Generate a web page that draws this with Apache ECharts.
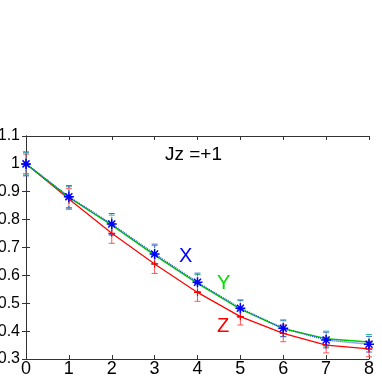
<!DOCTYPE html>
<html>
<head>
<meta charset="utf-8">
<script src="https://cdn.jsdelivr.net/npm/echarts@6/dist/echarts.min.js"></script>
<style>
  html, body { margin: 0; padding: 0; background: #fff; }
  #chart { width: 382px; height: 382px; }
</style>
</head>
<body>
<div id="chart"></div>
<script>
var rValues = [0, 1, 2, 3, 4, 5, 6, 7, 8];
var xValues = [1.0, 0.882, 0.784, 0.677, 0.575, 0.482, 0.410, 0.368, 0.353];
var yValues = [1.0, 0.880, 0.780, 0.673, 0.571, 0.479, 0.409, 0.373, 0.361];
var zValues = [1.0, 0.874, 0.751, 0.641, 0.539, 0.452, 0.392, 0.350, 0.336];
var xErr = [0.043, 0.040, 0.038, 0.035, 0.033, 0.030, 0.030, 0.028, 0.028];
var yErr = [0.040, 0.038, 0.036, 0.034, 0.032, 0.030, 0.028, 0.027, 0.027];
var zErr = [0.035, 0.037, 0.036, 0.034, 0.032, 0.030, 0.030, 0.028, 0.028];

var myChart = echarts.init(document.getElementById('chart'));

function pairs(vals) {
    return rValues.map(function (r, i) { return [r, vals[i]]; });
}
function errData(vals, errs) {
    return rValues.map(function (r, i) { return [r, vals[i] - errs[i], vals[i] + errs[i]]; });
}
function errSeries(vals, errs, color, dash) {
    return {
        type: 'custom',
        silent: true,
        z: 3,
        data: errData(vals, errs),
        renderItem: function (params, api) {
            var lo = api.coord([api.value(0), api.value(1)]);
            var hi = api.coord([api.value(0), api.value(2)]);
            var w = 3;
            var st = { stroke: color, lineWidth: 1, lineDash: dash };
            var cap = { stroke: color, lineWidth: 1 };
            return {
                type: 'group',
                children: [
                    { type: 'line', shape: { x1: lo[0], y1: lo[1], x2: hi[0], y2: hi[1] }, style: st },
                    { type: 'line', shape: { x1: lo[0] - w, y1: lo[1], x2: lo[0] + w, y2: lo[1] }, style: cap },
                    { type: 'line', shape: { x1: hi[0] - w, y1: hi[1], x2: hi[0] + w, y2: hi[1] }, style: cap }
                ]
            };
        }
    };
}

var star = 'path://M0,-5L0,5M-5,0L5,0M-3.5,-3.5L3.5,3.5M-3.5,3.5L3.5,-3.5';
var plus = 'path://M0,-5L0,5M-5,0L5,0';
var axisCol = '#333';
var font = 'Liberation Sans, Arial, sans-serif';

var option = {
    animation: false,
    grid: { left: 26, right: 13, top: 136, bottom: 23, containLabel: false, outerBoundsMode: 'none' },
    xAxis: [
        {
            type: 'value', min: 0, max: 8, interval: 1,
            name: 'r/a', nameLocation: 'middle', nameGap: 20,
            nameTextStyle: { fontSize: 17, color: '#000', fontFamily: font, verticalAlign: 'top' },
            axisLine: { lineStyle: { color: axisCol, width: 1 } },
            axisTick: { inside: true, length: 4, lineStyle: { color: axisCol } },
            axisLabel: { fontSize: 18, color: '#000', margin: 1, fontFamily: font },
            splitLine: { show: false }
        },
        {
            type: 'value', position: 'top', min: 0, max: 8, interval: 1,
            axisLine: { show: true, lineStyle: { color: axisCol, width: 1 } },
            axisTick: { inside: true, length: 4, lineStyle: { color: axisCol } },
            axisLabel: { show: false },
            splitLine: { show: false }
        }
    ],
    yAxis: [
        {
            type: 'value', min: 0.3, max: 1.1, interval: 0.1,
            axisLine: { show: true, lineStyle: { color: axisCol, width: 1 } },
            axisTick: { inside: true, length: 4, lineStyle: { color: axisCol } },
            axisLabel: {
                fontSize: 16, color: '#000', margin: 6, fontFamily: font,
                formatter: function (v) { return String(Math.round(v * 10) / 10); }
            },
            splitLine: { show: false }
        },
        {
            type: 'value', position: 'right', min: 0.3, max: 1.1, interval: 0.1,
            axisLine: { show: true, lineStyle: { color: axisCol, width: 1 } },
            axisTick: { inside: true, length: 4, lineStyle: { color: axisCol } },
            axisLabel: { show: false },
            splitLine: { show: false }
        }
    ],
    graphic: [
        { type: 'text', left: 165, top: 145, style: { text: 'Jz =+1', fontSize: 19, fill: '#000', fontFamily: font } },
        { type: 'text', left: 179, top: 246, style: { text: 'X', fontSize: 20, fill: '#0000ff', fontFamily: font } },
        { type: 'text', left: 217, top: 273, style: { text: 'Y', fontSize: 20, fill: '#00dd00', fontFamily: font } },
        { type: 'text', left: 217, top: 316, style: { text: 'Z', fontSize: 20, fill: '#ff0000', fontFamily: font } }
    ],
    series: [
        errSeries(zValues, zErr, '#ff5555', null),
        errSeries(yValues, yErr, '#33bb88', [2, 2]),
        errSeries(xValues, xErr, '#4466dd', [2, 2]),
        {
            name: 'Z', type: 'line', data: pairs(zValues), z: 4,
            symbol: plus, symbolSize: 7,
            itemStyle: { color: 'none', borderColor: '#ff0000', borderWidth: 1.2 },
            lineStyle: { color: '#ff0000', width: 1.2 }
        },
        {
            name: 'Y', type: 'line', data: pairs(yValues), z: 4,
            symbol: plus, symbolSize: 7,
            itemStyle: { color: 'none', borderColor: '#00cc00', borderWidth: 1.2 },
            lineStyle: { color: '#00cc00', width: 1.5 }
        },
        {
            name: 'X', type: 'line', data: pairs(xValues), z: 5,
            symbol: star, symbolSize: 10,
            itemStyle: { color: 'none', borderColor: '#0000ff', borderWidth: 1.5 },
            lineStyle: { color: '#2255dd', width: 1.5, type: [1, 1] }
        }
    ]
};
myChart.setOption(option);
</script>
</body>
</html>
